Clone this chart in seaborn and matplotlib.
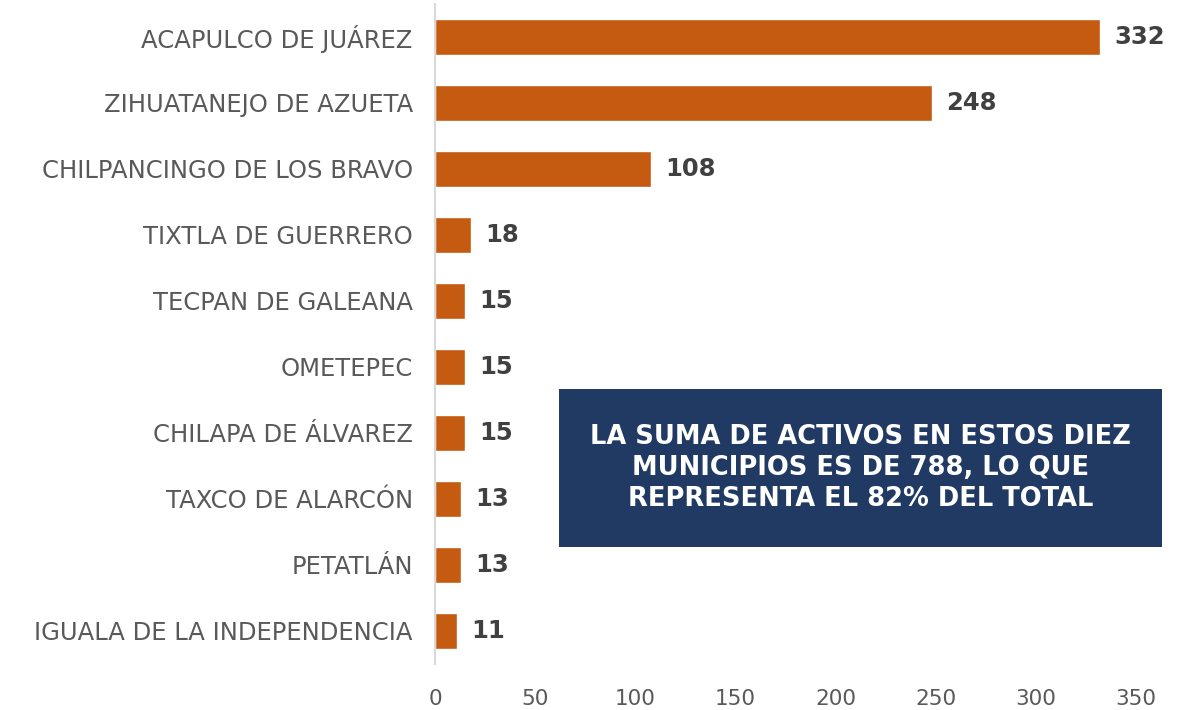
import matplotlib
matplotlib.use("Agg")
import matplotlib.pyplot as plt
import seaborn as sns
import pandas as pd
from matplotlib.patches import Rectangle

# datos
municipios = [
    "ACAPULCO DE JUÁREZ",
    "ZIHUATANEJO DE AZUETA",
    "CHILPANCINGO DE LOS BRAVO",
    "TIXTLA DE GUERRERO",
    "TECPAN DE GALEANA",
    "OMETEPEC",
    "CHILAPA DE ÁLVAREZ",
    "TAXCO DE ALARCÓN",
    "PETATLÁN",
    "IGUALA DE LA INDEPENDENCIA",
]
activos = [332, 248, 108, 18, 15, 15, 15, 13, 13, 11]
xticks = [0, 50, 100, 150, 200, 250, 300, 350]
nota = "LA SUMA DE ACTIVOS EN ESTOS DIEZ\nMUNICIPIOS ES DE 788, LO QUE\nREPRESENTA EL 82% DEL TOTAL"

df = pd.DataFrame({"municipio": municipios, "activos": activos})

sns.set_style("white")
plt.rcParams["font.family"] = ["DejaVu Sans"]

fig = plt.figure(figsize=(11.83, 7.10), dpi=100)
ax = fig.add_axes([0.3677, 0.0648, 0.5926, 0.9296])

sns.barplot(data=df, x="activos", y="municipio", color="#c55a11",
            width=0.55, saturation=1, ax=ax)

ax.set_xlim(0, 350)
ax.set_ylim(9.5, -0.5)
ax.set_xticks(xticks)
ax.set_xlabel("")
ax.set_ylabel("")

for sp in ["top", "right", "bottom"]:
    ax.spines[sp].set_visible(False)
ax.spines["left"].set_color("#d9d9d9")
ax.spines["left"].set_linewidth(1.5)

ax.tick_params(axis="both", length=0)
ax.tick_params(axis="y", pad=16, labelsize=17.5, labelcolor="#595959")
ax.tick_params(axis="x", pad=18, labelsize=15.5, labelcolor="#595959")

for i, v in enumerate(activos):
    ax.text(v + 7, i, str(v), va="center", ha="left", fontsize=17.5,
            fontweight="bold", color="#404040", clip_on=False)

# recuadro de nota
fig.patches.append(Rectangle((0.4725, 0.2296), 0.5098, 0.2225,
                             transform=fig.transFigure, facecolor="#213a63",
                             edgecolor="none", zorder=5))
fig.text(0.7274, 0.3408, nota, ha="center", va="center", color="white",
         fontsize=18.5, fontweight="bold", linespacing=1.25, zorder=6)

fig.savefig("out.png", dpi=100)
